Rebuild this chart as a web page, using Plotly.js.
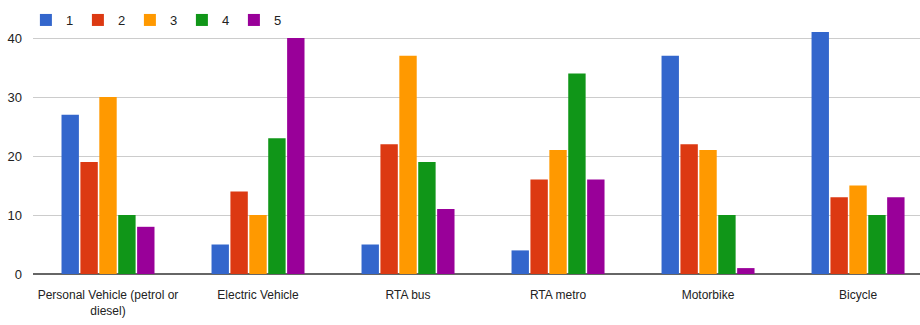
<!DOCTYPE html>
<html><head><meta charset="utf-8">
<script src="https://cdn.plot.ly/plotly-3.0.1.min.js"></script>
<style>html,body{margin:0;padding:0;background:#fff}#chart{width:920px;height:325px}</style>
</head><body><div id="chart"></div>
<script>
const categories = ["Personal Vehicle (petrol or<br>diesel)", "Electric Vehicle", "RTA bus", "RTA metro", "Motorbike", "Bicycle"];
const seriesNames = ["1", "2", "3", "4", "5"];
const s1 = [27, 5, 5, 4, 37, 41];
const s2 = [19, 14, 22, 16, 22, 13];
const s3 = [30, 10, 37, 21, 21, 15];
const s4 = [10, 23, 19, 34, 10, 10];
const s5 = [8, 40, 11, 16, 1, 13];
const colors = ["#3366cc", "#dc3912", "#ff9900", "#109618", "#990099"];
const yTicks = [0, 10, 20, 30, 40];

const allSeries = [s1, s2, s3, s4, s5];
const traces = allSeries.map((vals, i) => ({
  type: "bar",
  name: seriesNames[i],
  x: categories,
  y: vals,
  marker: {color: colors[i]},
  hoverinfo: "y+name"
}));

const FONT = "Liberation Sans, Arial, sans-serif";
const layout = {
  width: 920, height: 325,
  margin: {l: 33, r: 0, t: 0, b: 51, pad: 0},
  paper_bgcolor: "#fff", plot_bgcolor: "#fff",
  barmode: "group",
  bargap: 0.37,
  bargroupgap: 0.08,
  font: {family: FONT, size: 13, color: "#222"},
  showlegend: true,
  legend: {orientation: "h", x: -0.008, xanchor: "left", y: 0.927, yanchor: "middle",
           bgcolor: "rgba(0,0,0,0)",
           font: {family: FONT, size: 13, color: "#222"}, traceorder: "normal",
           entrywidth: 7, entrywidthmode: "pixels"},
  xaxis: {
    type: "category",
    range: [-0.5, 5.413],
    showgrid: false, showline: false, ticks: "",
    tickfont: {family: FONT, size: 12, color: "#222"},
    ticklabelstandoff: 12,
    fixedrange: true
  },
  yaxis: {
    range: [0, 46.44],
    tickvals: yTicks,
    ticktext: yTicks.map(String),
    showgrid: true, gridcolor: "#cccccc", gridwidth: 1,
    zeroline: true, zerolinecolor: "#666666", zerolinewidth: 2,
    showline: false, ticks: "",
    tickfont: {family: FONT, size: 13, color: "#222"},
    ticklabelstandoff: 10,
    fixedrange: true
  }
};

Plotly.newPlot("chart", traces, layout, {displayModeBar: false, staticPlot: true});
</script></body></html>
